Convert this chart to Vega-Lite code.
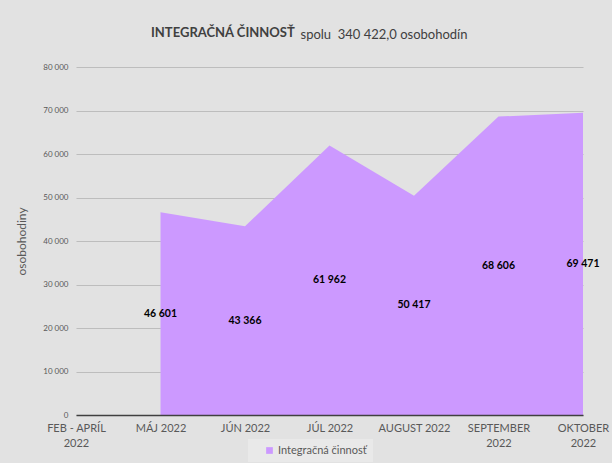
{
  "$schema": "https://vega.github.io/schema/vega-lite/v6.json",
  "width": 507,
  "height": 348,
  "autosize": {"type": "none"},
  "padding": {"left": 76, "top": 67, "right": 29, "bottom": 48},
  "background": "#e2e2e2",
  "title": {
    "text": "INTEGRAČNÁ ČINNOSŤ",
    "anchor": "start",
    "frame": "group",
    "dx": 75,
    "offset": -12,
    "font": "Lato",
    "fontSize": 13,
    "fontWeight": "bold",
    "color": "#404040"
  },
  "data": {
    "values": [
      {"mesiac": "FEB - APRÍL 2022", "value": null},
      {"mesiac": "MÁJ 2022", "value": 46601},
      {"mesiac": "JÚN 2022", "value": 43366},
      {"mesiac": "JÚL 2022", "value": 61962},
      {"mesiac": "AUGUST 2022", "value": 50417},
      {"mesiac": "SEPTEMBER 2022", "value": 68606},
      {"mesiac": "OKTOBER 2022", "value": 69471}
    ]
  },
  "layer": [
    {
      "mark": {"type": "area", "interpolate": "linear", "opacity": 1},
      "encoding": {
        "x": {
          "field": "mesiac",
          "type": "nominal",
          "sort": null,
          "scale": {
            "type": "point",
            "padding": 0,
            "domain": ["FEB - APRÍL 2022", "MÁJ 2022", "JÚN 2022", "JÚL 2022", "AUGUST 2022", "SEPTEMBER 2022", "OKTOBER 2022"]
          },
          "axis": {
            "title": null,
            "labelAngle": 0,
            "labelFont": "Lato",
            "labelFontSize": 11,
            "labelColor": "#595959",
            "labelPadding": 7,
            "labelLineHeight": 15,
            "labelExpr": "length(datum.label) >= 12 ? [replace(datum.label, ' 2022', ''), '2022'] : datum.label",
            "ticks": false,
            "grid": false,
            "domainColor": "#404040",
            "domainWidth": 1.5,
            "zindex": 1
          }
        },
        "y": {
          "field": "value",
          "type": "quantitative",
          "scale": {"domain": [0, 80000], "nice": false},
          "axis": {
            "title": "osobohodiny",
            "titleFont": "Lato",
            "titleFontSize": 12,
            "titleFontWeight": "normal",
            "titleColor": "#595959",
            "titlePadding": 14,
            "values": [0, 10000, 20000, 30000, 40000, 50000, 60000, 70000, 80000],
            "format": ",d",
            "labelFont": "Lato",
            "labelFontSize": 8,
            "labelColor": "#595959",
            "labelPadding": 8,
            "ticks": false,
            "domain": false,
            "grid": true,
            "gridColor": "#bdbdbd",
            "gridWidth": 1
          }
        },
        "color": {
          "datum": "Integračná činnosť",
          "type": "nominal",
          "scale": {"range": ["#cc99ff"]},
          "legend": {
            "title": null,
            "orient": "none",
            "legendX": 172,
            "legendY": 372,
            "fillColor": "#e9e9e9",
            "padding": 6,
            "symbolType": "square",
            "symbolSize": 45,
            "symbolOffset": 10,
            "labelFont": "Lato",
            "labelFontSize": 11,
            "labelColor": "#595959",
            "labelOffset": 3
          }
        }
      }
    },
    {
      "transform": [{"filter": "datum.value != null"}],
      "mark": {"type": "text", "font": "Lato", "fontSize": 10.5, "fontWeight": "bold", "color": "#000000", "baseline": "middle", "align": "center"},
      "encoding": {
        "x": {
          "field": "mesiac",
          "type": "nominal",
          "sort": null,
          "scale": {
            "type": "point",
            "padding": 0,
            "domain": ["FEB - APRÍL 2022", "MÁJ 2022", "JÚN 2022", "JÚL 2022", "AUGUST 2022", "SEPTEMBER 2022", "OKTOBER 2022"]
          },
          "axis": {
            "orient": "top",
            "labels": false,
            "ticks": false,
            "domain": false,
            "grid": false,
            "title": "spolu\u00a0\u00a0340 422,0 osobohodín",
            "titleFont": "Lato",
            "titleFontSize": 13,
            "titleFontWeight": "normal",
            "titleColor": "#404040",
            "titleX": 224,
            "titleY": -29,
            "titleAlign": "left",
            "titleBaseline": "alphabetic",
            "titleAngle": 0
          }
        },
        "y": {
          "field": "value",
          "type": "quantitative",
          "scale": {"domain": [0, 160000], "nice": false},
          "axis": null
        },
        "text": {"field": "value", "type": "quantitative", "format": ",d"}
      }
    }
  ],
  "resolve": {"scale": {"y": "independent", "x": "independent"}, "axis": {"x": "independent"}},
  "config": {
    "view": {"stroke": null},
    "locale": {
      "number": {"decimal": ",", "thousands": " ", "grouping": [3], "currency": ["", " €"]}
    }
  }
}
